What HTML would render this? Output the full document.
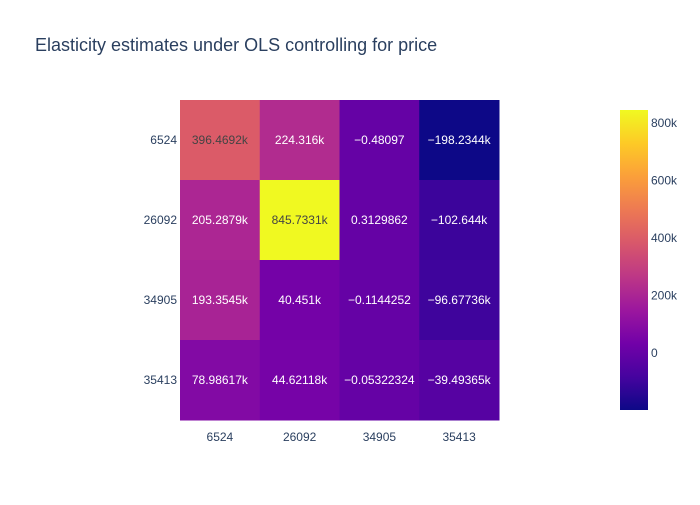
<!DOCTYPE html>
<html><head><meta charset="utf-8"><style>
body{margin:0;background:#fff;font-family:"Liberation Sans",Arial,sans-serif;}
svg text{font-family:"Liberation Sans",Arial,sans-serif;}
</style></head><body>
<svg id="chart" width="700" height="500">
<rect width="700" height="500" fill="#fff"/>
<text x="35" y="51" font-size="18" fill="#2a3f5f">Elasticity estimates under OLS controlling for price</text>
<g id="cells"></g><g id="xt"></g><g id="yt"></g>
<defs><linearGradient id="plasma" x1="0" y1="1" x2="0" y2="0"></linearGradient></defs>
<g id="cbar"></g>
</svg>
<script>
const xCats=["6524","26092","34905","35413"];
const yCats=["6524","26092","34905","35413"];
const z=[
[396469.2,224316,-0.48097,-198234.4],
[205287.9,845733.1,0.3129862,-102644],
[193354.5,40451,-0.1144252,-96677.36],
[78986.17,44621.18,-0.05322324,-39493.65]];
const labels=[
["396.4692k","224.316k","\u22120.48097","\u2212198.2344k"],
["205.2879k","845.7331k","0.3129862","\u2212102.644k"],
["193.3545k","40.451k","\u22120.1144252","\u221296.67736k"],
["78.98617k","44.62118k","\u22120.05322324","\u221239.49365k"]];
const cbTicks=[0,200000,400000,600000,800000];
const cbTickLabels=["0","200k","400k","600k","800k"];
const stops=["#0d0887","#46039f","#7201a8","#9c179e","#bd3786","#d8576b","#ed7953","#fb9f3a","#fdca26","#f0f921"];
const NS="http://www.w3.org/2000/svg";
function mk(t,a,p){const e=document.createElementNS(NS,t);for(const k in a)e.setAttribute(k,a[k]);p.appendChild(e);return e;}
const flat=z.flat();const zmin=Math.min(...flat),zmax=Math.max(...flat);
const px0=180,pw=319,py0=100,ph=320;
const cw=pw/xCats.length,ch=ph/yCats.length;
function xPos(i){return px0+i*cw;}
function yPos(j){return py0+j*ch;}
function hex(h){return [1,3,5].map(i=>parseInt(h.substr(i,2),16));}
function color(v){let t=(v-zmin)/(zmax-zmin);t=Math.max(0,Math.min(1,t));const s=t*(stops.length-1);const i=Math.min(Math.floor(s),stops.length-2);const f=s-i;const a=hex(stops[i]),b=hex(stops[i+1]);const c=a.map((x,k)=>Math.round(x+(b[k]-x)*f));return {c:`rgb(${c})`,l:(0.299*c[0]+0.587*c[1]+0.114*c[2])};}
const cells=document.getElementById('cells');
z.forEach((row,j)=>row.forEach((v,i)=>{
 const col=color(v);
 const r=mk('rect',{x:xPos(i),y:yPos(j),width:cw+0.5,height:ch+0.5,fill:col.c},cells);
 
 
 const t=mk('text',{x:xPos(i)+cw/2,y:yPos(j)+ch/2+4,'text-anchor':'middle','font-size':'12',fill:col.l>110?'#444':'#fff'},cells);
 t.textContent=labels[j][i];
 
 
}));
const xt=document.getElementById('xt');
xCats.forEach((c,i)=>{const t=mk('text',{x:xPos(i)+cw/2,y:441,'text-anchor':'middle','font-size':'12',fill:'#2a3f5f'},xt);t.textContent=c;
 
 });
const yt=document.getElementById('yt');
yCats.forEach((c,j)=>{const t=mk('text',{x:177,y:yPos(j)+ch/2+4,'text-anchor':'end','font-size':'12',fill:'#2a3f5f'},yt);t.textContent=c;
 
 });
const g=document.getElementById('plasma');
stops.forEach((s,i)=>mk('stop',{offset:i/(stops.length-1),'stop-color':s},g));
const cb=document.getElementById('cbar');
const cbx=620,cbw=28,cby0=110,cbh=300;
function cbY(v){return cby0+cbh-(v-zmin)/(zmax-zmin)*cbh;}
const bar=mk('rect',{x:cbx,y:cby0,width:cbw,height:cbh,fill:'url(#plasma)'},cb);


cbTicks.forEach((v,i)=>{const t=mk('text',{x:cbx+cbw+3,y:cbY(v)+4,'font-size':'12',fill:'#2a3f5f'},cb);t.textContent=cbTickLabels[i];
 
 });
</script>
</body></html>
